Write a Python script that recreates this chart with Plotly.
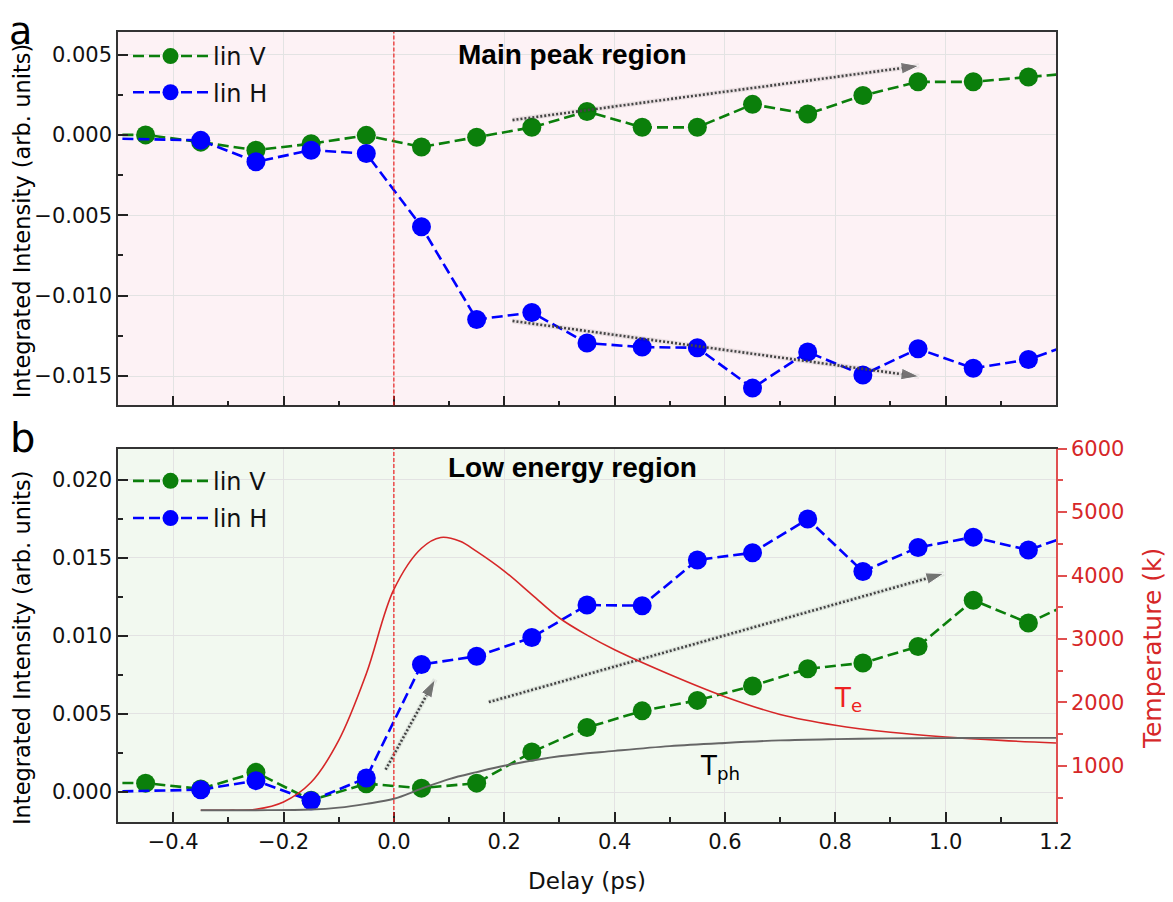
import plotly.graph_objects as go

# ---------------- data ----------------
delay_v = [-0.55, -0.45, -0.35, -0.25, -0.15, -0.05, 0.05, 0.15, 0.25, 0.35, 0.45,
           0.55, 0.65, 0.75, 0.85, 0.95, 1.05, 1.15, 1.25]
delay_h = [-0.55, -0.35, -0.25, -0.15, -0.05, 0.05, 0.15, 0.25, 0.35, 0.45,
           0.55, 0.65, 0.75, 0.85, 0.95, 1.05, 1.15, 1.25]

main_lin_v = [0.0000, 0.0000, -0.00045, -0.00095, -0.00055, -0.00003, -0.00075, -0.00015,
              0.00047, 0.00145, 0.00047, 0.00047, 0.0019, 0.0013, 0.00245, 0.0033,
              0.0033, 0.0036, 0.0039]
main_lin_h = [-0.0002, -0.00034, -0.00167, -0.00095, -0.00116, -0.00571, -0.01148,
              -0.01105, -0.01295, -0.0132, -0.01324, -0.01575, -0.0135, -0.01493,
              -0.0133, -0.01452, -0.01397, -0.01275]

low_lin_v = [0.0006, 0.00057, 0.0002, 0.00126, -0.00052, 0.00053, 0.00025, 0.00057,
             0.00256, 0.00413, 0.0052, 0.00587, 0.0068, 0.0079, 0.00827, 0.00932,
             0.01229, 0.01083, 0.0125]
low_lin_h = [0.0000, 0.00015, 0.00073, -0.00056, 0.0009, 0.00817, 0.0087, 0.0099,
             0.01198, 0.01194, 0.01487, 0.01533, 0.01749, 0.01413, 0.01567, 0.01633,
             0.0155, 0.01675]

te_t = [-0.35, -0.3, -0.25, -0.2, -0.15, -0.1, -0.05, 0.0, 0.05, 0.085, 0.12, 0.15,
        0.2, 0.25, 0.3, 0.35, 0.4, 0.5, 0.6, 0.7, 0.8, 0.9, 1.0, 1.1, 1.2]
te_k = [300, 300, 315, 430, 740, 1400, 2450, 3780, 4430, 4600, 4540, 4380,
        4070, 3700, 3330, 3060, 2830, 2440, 2090, 1810, 1640, 1530, 1455, 1400, 1360]

tph_t = [-0.35, -0.25, -0.15, -0.1, -0.05, 0.0, 0.05, 0.1, 0.15, 0.2, 0.3, 0.4,
         0.5, 0.6, 0.7, 0.8, 0.9, 1.0, 1.1, 1.2]
tph_k = [300, 300, 310, 340, 400, 480, 640, 790, 900, 1000, 1150, 1235,
         1310, 1360, 1400, 1420, 1432, 1437, 1440, 1440]

# trend arrows: (x0, y0, x1, y1) in data units
arrows_main = [(0.215, 0.00092, 0.952, 0.0043),
               (0.215, -0.01157, 0.952, -0.01503)]
arrows_low = [(-0.015, 0.00143, 0.075, 0.00722),
              (0.172, 0.00576, 0.997, 0.0140)]

x_ticks = [-0.4, -0.2, 0.0, 0.2, 0.4, 0.6, 0.8, 1.0, 1.2]

# ---------------- styling ----------------
GREEN = "#0b7f0b"
BLUE = "#0000ff"
RED = "#d62728"
GRAY = "#666666"
FRAME = "#333333"
FONT = "DejaVu Sans"

# page geometry (browser window 1173x902, page body has an 8px margin)
PAGE_W, PAGE_H, BODY = 1173, 902, 8
PL, PR, PT, PB = 118, 1056, 22, 827.3       # plot area in page pixels
W, H = PAGE_W - BODY, PAGE_H - BODY
ML, MR, MT, MB = PL - BODY, PAGE_W - PR, PT - BODY, PAGE_H - PB


def px(x):
    return (x - PL) / (PR - PL)


def py(y):
    return 1 - (y - PT) / (PB - PT)


top_dom = [py(402.7), 1.0]
bot_dom = [0.0, py(446.7)]

fig = go.Figure()


def add_series(x, y, color, name, xa, ya, legend):
    fig.add_trace(go.Scatter(
        x=x, y=y, mode="lines+markers", name=name,
        line=dict(color=color, width=2.6, dash="11px,5px"),
        marker=dict(color=color, size=19),
        xaxis=xa, yaxis=ya, legend=legend, cliponaxis=True,
        legendgroup=name + legend,
    ))


def add_arrow(a, xa, ya):
    x0, y0, x1, y1 = a
    fig.add_trace(go.Scatter(
        x=[x0, x1], y=[y0, y1], mode="lines",
        line=dict(color="rgba(0,0,0,0.07)", width=5),
        xaxis=xa, yaxis=ya, showlegend=False, hoverinfo="skip",
    ))
    fig.add_trace(go.Scatter(
        x=[x0, x1], y=[y0, y1], mode="lines+markers",
        line=dict(color="#444444", width=2.6, dash="2px,2px"),
        marker=dict(symbol="arrow", size=[0, 19], color="#444444", angleref="previous"),
        xaxis=xa, yaxis=ya, showlegend=False, hoverinfo="skip",
    ))


# top panel
add_series(delay_v, main_lin_v, GREEN, "lin V", "x", "y", "legend")
add_series(delay_h, main_lin_h, BLUE, "lin H", "x", "y", "legend")
for a in arrows_main:
    add_arrow(a, "x", "y")

# bottom panel temperatures
fig.add_trace(go.Scatter(x=te_t, y=te_k, mode="lines", line=dict(color=RED, width=1.6, shape="spline"),
                         xaxis="x2", yaxis="y3", showlegend=False))
fig.add_trace(go.Scatter(x=tph_t, y=tph_k, mode="lines", line=dict(color=GRAY, width=1.9, shape="spline"),
                         xaxis="x2", yaxis="y3", showlegend=False))

# bottom panel data
add_series(delay_v, low_lin_v, GREEN, "lin V", "x2", "y2", "legend2")
add_series(delay_h, low_lin_h, BLUE, "lin H", "x2", "y2", "legend2")
for a in arrows_low:
    add_arrow(a, "x2", "y2")

tickfont = dict(family=FONT, size=21, color="#111111")
common_x = dict(range=[-0.5, 1.2], tickmode="array", tickvals=x_ticks, ticks="inside",
                ticklen=10, tickwidth=1.5, tickcolor="#222222",
                minor=dict(dtick=0.1, tick0=0, ticks="inside", ticklen=5, tickcolor="#222222",
                           showgrid=False),
                showgrid=True, gridcolor="#e3e3e3", gridwidth=1,
                showline=True, linecolor=FRAME, linewidth=1.5, mirror=True,
                zeroline=False, tickfont=tickfont)
common_y = dict(ticks="inside", ticklen=10, tickwidth=1.5, tickcolor="#222222",
                showgrid=True, gridcolor="#e3e3e3", gridwidth=1,
                showline=True, linecolor=FRAME, linewidth=1.5,
                zeroline=False, tickfont=tickfont, tickformat=".3f")

fig.update_layout(
    width=W, height=H,
    margin=dict(l=ML, r=MR, t=MT, b=MB),
    paper_bgcolor="white",
    plot_bgcolor="white",
    font=dict(family=FONT, size=21, color="#111111"),
    xaxis=dict(common_x, domain=[0, 1], anchor="y", showticklabels=False),
    yaxis=dict(common_y, domain=top_dom, anchor="x", range=[-0.01683, 0.0064],
               tickvals=[-0.015, -0.010, -0.005, 0.0, 0.005], mirror=True,
               minor=dict(dtick=0.0025, tick0=0, ticks="inside", ticklen=5, tickcolor="#222222",
                          showgrid=False)),
    xaxis2=dict(common_x, domain=[0, 1], anchor="y2", matches="x", tickformat=".1f",
                title=dict(text="Delay (ps)", font=dict(family=FONT, size=23), standoff=20)),
    yaxis2=dict(common_y, domain=bot_dom, anchor="x2", range=[-0.00192, 0.0220],
                tickvals=[0.0, 0.005, 0.010, 0.015, 0.020], mirror=False,
                minor=dict(dtick=0.0025, tick0=0, ticks="inside", ticklen=5, tickcolor="#222222",
                           showgrid=False)),
    yaxis3=dict(overlaying="y2", side="right", anchor="x2", range=[114, 6000],
                tickvals=[1000, 2000, 3000, 4000, 5000, 6000], tickformat="d",
                ticks="outside", ticklen=9, tickwidth=1.5, tickcolor="#e05050",
                minor=dict(dtick=500, tick0=0, ticks="outside", ticklen=5, tickcolor="#e05050"),
                showline=True, linecolor="#e05050", linewidth=1.5, showgrid=False, zeroline=False,
                tickfont=dict(family=FONT, size=21, color=RED)),
    legend=dict(x=px(128), y=py(24), xanchor="left", yanchor="top",
                bgcolor="rgba(0,0,0,0)", font=dict(family=FONT, size=24),
                itemwidth=75, tracegroupgap=2),
    legend2=dict(x=px(128), y=py(457), xanchor="left", yanchor="top",
                 bgcolor="rgba(0,0,0,0)", font=dict(family=FONT, size=24),
                 itemwidth=75, tracegroupgap=3),
)

# panel backgrounds
fig.add_shape(type="rect", xref="x domain", yref="y domain", x0=0, x1=1, y0=0, y1=1,
              fillcolor="#fdf2f5", line=dict(width=0), layer="below")
fig.add_shape(type="rect", xref="x2 domain", yref="y2 domain", x0=0, x1=1, y0=0, y1=1,
              fillcolor="#f2f9f0", line=dict(width=0), layer="below")

# t = 0 markers
for xa, ya in (("x", "y"), ("x2", "y2")):
    fig.add_shape(type="line", xref=xa, yref=ya + " domain", x0=0, x1=0, y0=0, y1=1,
                  line=dict(color="#ee2222", width=1.2, dash="4px,2px"))

ann = []
ann.append(dict(text="a", x=px(20), y=py(21), font=dict(family=FONT, size=38, color="black")))
ann.append(dict(text="b", x=px(22), y=py(436), font=dict(family=FONT, size=40, color="black")))
ann.append(dict(text="<b>Main peak region</b>", x=px(572), y=py(45),
                font=dict(family="Liberation Sans", size=28, color="black")))
ann.append(dict(text="<b>Low energy region</b>", x=px(572), y=py(466),
                font=dict(family="Liberation Sans", size=28, color="black")))
ann.append(dict(text="Integrated Intensity (arb. units)", x=px(22), y=py(215), textangle=-90,
                font=dict(family=FONT, size=22.5, color="black")))
ann.append(dict(text="Integrated Intensity (arb. units)", x=px(22), y=py(650), textangle=-90,
                font=dict(family=FONT, size=22.5, color="black")))
ann.append(dict(text="Temperature (k)", x=px(1152), y=py(651), textangle=-90,
                font=dict(family=FONT, size=25, color=RED)))
ann.append(dict(text="T<sub>e</sub>", x=px(848), y=py(702),
                font=dict(family=FONT, size=26, color="#ee2222")))
ann.append(dict(text="T<sub>ph</sub>", x=px(720), y=py(772),
                font=dict(family=FONT, size=26, color="black")))
for a in ann:
    a.update(xref="paper", yref="paper", showarrow=False, xanchor="center", yanchor="middle")
    fig.add_annotation(**a)

fig.write_html("out.html")
